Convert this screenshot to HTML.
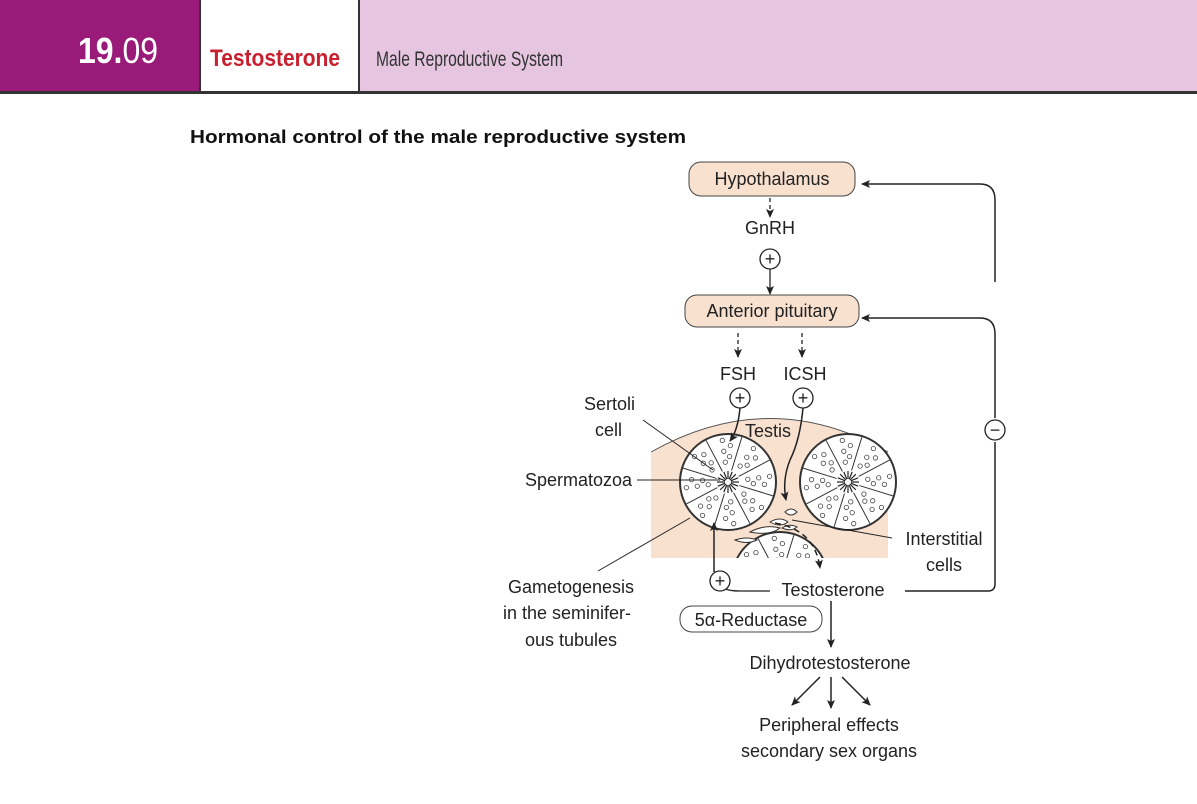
<!DOCTYPE html>
<html><head><meta charset="utf-8"><style>
body{margin:0;width:1197px;height:804px;background:#fff;overflow:hidden;font-family:"Liberation Sans",sans-serif}
svg{position:absolute;left:0;top:0}
</style></head><body>
<svg width="1197" height="804" viewBox="0 0 1197 804">
<defs>
<marker id="ah" markerWidth="10" markerHeight="10" refX="8" refY="5" orient="auto" markerUnits="userSpaceOnUse"><path d="M0,1 L9,5 L0,9 L2,5 Z" fill="#222"/></marker>
<clipPath id="tc"><rect x="640" y="400" width="260" height="158"/></clipPath>
</defs>
<g>
<rect x="0" y="0" width="200" height="92" fill="#991a78"/>
<rect x="360" y="0" width="837" height="92" fill="#e5c5df"/>
<rect x="0" y="91" width="1197" height="3" fill="#333"/>
<rect x="199" y="0" width="2" height="92" fill="#333"/>
<rect x="358" y="0" width="2" height="92" fill="#333"/>
<text x="78" y="63" font-size="36" fill="#fff" font-weight="bold" textLength="80" lengthAdjust="spacingAndGlyphs">19.<tspan font-weight="normal">09</tspan></text>
<text x="210" y="66" font-size="24" fill="#c8202f" font-weight="bold" textLength="130" lengthAdjust="spacingAndGlyphs">Testosterone</text>
<text x="376" y="66" font-size="21" fill="#333" textLength="187" lengthAdjust="spacingAndGlyphs">Male Reproductive System</text>
</g>
<text x="190" y="143" font-size="18" font-weight="bold" fill="#111" textLength="496" lengthAdjust="spacingAndGlyphs">Hormonal control of the male reproductive system</text>

<g>
<path d="M651,452 Q770,385 888,452 L888,558 L651,558 Z" fill="#f9e1cf"/>
<path d="M651,452 Q770,385 888,452" fill="none" stroke="#555" stroke-width="1"/>
<g id="tubules" clip-path="url(#tc)"></g>
<g fill="#fff" stroke="#333" stroke-width="1">
<path d="M750,532 q15,-8 30,-4 q-10,8 -30,4z"/><path d="M770,522 q10,-6 18,0 q-8,6 -18,0z"/><path d="M735,540 q12,-4 22,0 q-10,5 -22,0z"/><path d="M785,512 q6,-6 12,0 q-6,6 -12,0z"/><path d="M782,528 q8,-5 15,-1 q-6,5 -15,1z"/>
</g>
<text x="745" y="437" font-size="18" fill="#222">Testis</text>
</g>

<g font-size="18" fill="#222" text-anchor="middle">
<rect x="689" y="162" width="166" height="34" rx="12" fill="#f9e1cf" stroke="#444"/>
<text x="772" y="185">Hypothalamus</text>
<line x1="770" y1="198" x2="770" y2="217" stroke="#222" stroke-width="1.3" stroke-dasharray="4,3" marker-end="url(#ah)"/>
<text x="770" y="234">GnRH</text>
<circle cx="770" cy="259" r="10" fill="#fff" stroke="#222" stroke-width="1.3"/><text x="770" y="265" font-size="18">+</text>
<line x1="770" y1="269" x2="770" y2="294" stroke="#222" stroke-width="1.3" marker-end="url(#ah)"/>
<rect x="685" y="295" width="174" height="32" rx="12" fill="#f9e1cf" stroke="#444"/>
<text x="772" y="317">Anterior pituitary</text>
<line x1="738" y1="333" x2="738" y2="357" stroke="#222" stroke-width="1.3" stroke-dasharray="4,3" marker-end="url(#ah)"/>
<line x1="802" y1="333" x2="802" y2="357" stroke="#222" stroke-width="1.3" stroke-dasharray="4,3" marker-end="url(#ah)"/>
<text x="738" y="380">FSH</text>
<text x="805" y="380">ICSH</text>
<circle cx="740" cy="398" r="10" fill="#fff" stroke="#222" stroke-width="1.3"/><text x="740" y="404">+</text>
<circle cx="803" cy="398" r="10" fill="#fff" stroke="#222" stroke-width="1.3"/><text x="803" y="404">+</text>
<path d="M740,408 Q738,430 730,441" fill="none" stroke="#222" stroke-width="1.5" marker-end="url(#ah)"/>
<path d="M803,408 Q800,440 790,460 Q782,480 786,500" fill="none" stroke="#222" stroke-width="1.5" marker-end="url(#ah)"/>
<path d="M775,523 Q815,530 820,568" fill="none" stroke="#222" stroke-width="1.5" stroke-dasharray="6,4" marker-end="url(#ah)"/>

<g text-anchor="end">
<text x="635" y="410">Sertoli</text>
<text x="622" y="436">cell</text>
<text x="632" y="486">Spermatozoa</text>
</g>
<line x1="643" y1="420" x2="713" y2="470" stroke="#222"/>
<line x1="637" y1="480" x2="720" y2="480" stroke="#222"/>
<text x="571" y="593">Gametogenesis</text>
<text x="567" y="619">in the seminifer-</text>
<text x="571" y="646">ous tubules</text>
<line x1="598" y1="571" x2="690" y2="518" stroke="#222"/>
<text x="944" y="545">Interstitial</text>
<text x="944" y="571">cells</text>
<line x1="892" y1="538" x2="792" y2="520" stroke="#222"/>

<text x="833" y="596">Testosterone</text>
<circle cx="720" cy="581" r="10" fill="#fff" stroke="#222" stroke-width="1.3"/><text x="720" y="587">+</text>
<path d="M726,589 Q730,591 740,591 L770,591" fill="none" stroke="#222" stroke-width="1.3"/>
<line x1="714" y1="572" x2="714" y2="523" stroke="#222" stroke-width="1.5" marker-end="url(#ah)"/>
<path d="M905,591 L988,591 Q995,591 995,584 L995,442" fill="none" stroke="#222" stroke-width="1.5"/>
<circle cx="995" cy="430" r="10" fill="#fff" stroke="#222" stroke-width="1.3"/><text x="995" y="436">−</text>
<path d="M995,418 L995,334 Q995,318 980,318 L862,318" fill="none" stroke="#222" stroke-width="1.5" marker-end="url(#ah)"/>
<path d="M995,282 L995,200 Q995,184 980,184 L862,184" fill="none" stroke="#222" stroke-width="1.5" marker-end="url(#ah)"/>

<rect x="680" y="606" width="142" height="26" rx="12" fill="#fff" stroke="#444"/>
<text x="751" y="626">5α-Reductase</text>
<line x1="831" y1="601" x2="831" y2="647" stroke="#222" stroke-width="1.5" marker-end="url(#ah)"/>
<text x="830" y="669">Dihydrotestosterone</text>
<line x1="820" y1="677" x2="792" y2="705" stroke="#222" stroke-width="1.5" marker-end="url(#ah)"/>
<line x1="831" y1="677" x2="831" y2="708" stroke="#222" stroke-width="1.5" marker-end="url(#ah)"/>
<line x1="842" y1="677" x2="870" y2="705" stroke="#222" stroke-width="1.5" marker-end="url(#ah)"/>
<text x="829" y="731">Peripheral effects</text>
<text x="829" y="757">secondary sex organs</text>
</g>
</svg>
<script>
const NS='http://www.w3.org/2000/svg';
const g=document.getElementById('tubules');
const centers=[[728,482],[848,482],[780,580]];
centers.forEach(([cx,cy],k)=>{
  const c=document.createElementNS(NS,'circle');
  c.setAttribute('cx',cx);c.setAttribute('cy',cy);c.setAttribute('r',48);
  c.setAttribute('fill','#fff');c.setAttribute('stroke','#333');c.setAttribute('stroke-width','2');
  
  
  g.appendChild(c);
  for(let i=0;i<8;i++){
    const a=i*Math.PI/4+0.3;
    const l=document.createElementNS(NS,'line');
    l.setAttribute('x1',cx+12*Math.cos(a));l.setAttribute('y1',cy+12*Math.sin(a));
    l.setAttribute('x2',cx+47*Math.cos(a));l.setAttribute('y2',cy+47*Math.sin(a));
    l.setAttribute('stroke','#333');l.setAttribute('stroke-width','1');
    g.appendChild(l);
    for(let j=0;j<5;j++){
      const b=a+0.35+(j%2)*0.2, r=20+j*5.5;
      const s=document.createElementNS(NS,'circle');
      s.setAttribute('cx',cx+r*Math.cos(b));s.setAttribute('cy',cy+r*Math.sin(b));
      s.setAttribute('r',2.2);s.setAttribute('fill','none');s.setAttribute('stroke','#444');s.setAttribute('stroke-width','0.8');
      g.appendChild(s);
    }
  }
  for(let i=0;i<16;i++){
    const a=i*Math.PI/8;
    const l=document.createElementNS(NS,'line');
    l.setAttribute('x1',cx+3*Math.cos(a));l.setAttribute('y1',cy+3*Math.sin(a));
    l.setAttribute('x2',cx+11*Math.cos(a));l.setAttribute('y2',cy+11*Math.sin(a));
    l.setAttribute('stroke','#222');l.setAttribute('stroke-width','1.2');
    g.appendChild(l);
  }
});
</script>
</body></html>
